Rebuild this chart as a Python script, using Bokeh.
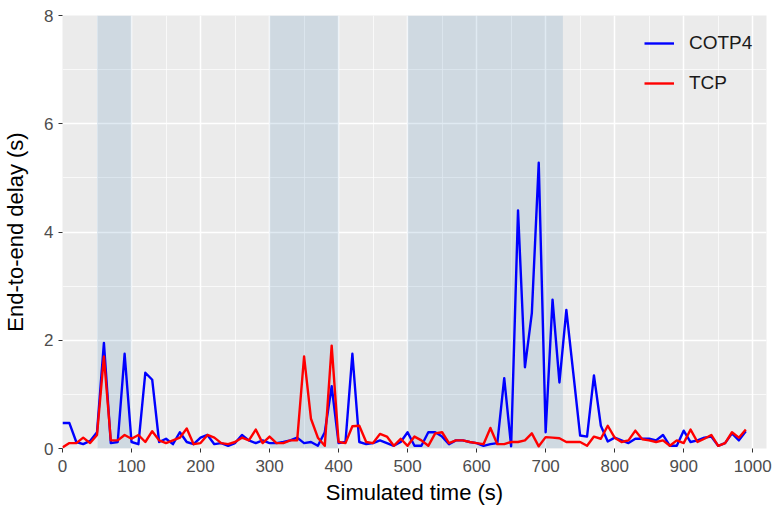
from bokeh.plotting import figure
from bokeh.models import SingleIntervalTicker, Legend, LegendItem, ColumnDataSource
from bokeh.embed import file_html
from bokeh.resources import INLINE

# ---- data ----
time_s = [0, 10, 20, 30, 40, 50, 60, 70, 80, 90,
          100, 110, 120, 130, 140, 150, 160, 170, 180, 190,
          200, 210, 220, 230, 240, 250, 260, 270, 280, 290,
          300, 310, 320, 330, 340, 350, 360, 370, 380, 390,
          400, 410, 420, 430, 440, 450, 460, 470, 480, 490,
          500, 510, 520, 530, 540, 550, 560, 570, 580, 590,
          600, 610, 620, 630, 640, 650, 660, 670, 680, 690,
          700, 710, 720, 730, 740, 750, 760, 770, 780, 790,
          800, 810, 820, 830, 840, 850, 860, 870, 880, 890,
          900, 910, 920, 930, 940, 950, 960, 970, 980, 990]

cotp4_delay = [0.47, 0.47, 0.12, 0.08, 0.14, 0.30, 1.95, 0.10, 0.12, 1.75,
               0.12, 0.08, 1.40, 1.27, 0.12, 0.18, 0.08, 0.30, 0.12, 0.08,
               0.20, 0.25, 0.08, 0.10, 0.05, 0.10, 0.25, 0.15, 0.10, 0.15,
               0.10, 0.10, 0.12, 0.15, 0.20, 0.10, 0.12, 0.05, 0.30, 1.15,
               0.10, 0.12, 1.75, 0.12, 0.08, 0.10, 0.15, 0.10, 0.05, 0.12,
               0.30, 0.05, 0.05, 0.30, 0.30, 0.22, 0.08, 0.15, 0.15, 0.12,
               0.10, 0.05, 0.08, 0.10, 1.30, 0.04, 4.40, 1.50, 2.50, 5.28,
               0.30, 2.75, 1.22, 2.56, 1.40, 0.24, 0.22, 1.35, 0.42, 0.13,
               0.20, 0.15, 0.10, 0.18, 0.18, 0.18, 0.15, 0.25, 0.05, 0.05,
               0.33, 0.12, 0.15, 0.20, 0.22, 0.05, 0.10, 0.28, 0.15, 0.32]

tcp_delay = [0.02, 0.10, 0.10, 0.20, 0.10, 0.25, 1.70, 0.15, 0.15, 0.25,
             0.18, 0.25, 0.12, 0.32, 0.15, 0.10, 0.15, 0.20, 0.37, 0.08,
             0.10, 0.25, 0.20, 0.10, 0.08, 0.12, 0.20, 0.15, 0.35, 0.10,
             0.22, 0.10, 0.10, 0.15, 0.15, 1.70, 0.55, 0.20, 0.05, 1.90,
             0.12, 0.10, 0.41, 0.42, 0.12, 0.10, 0.27, 0.22, 0.05, 0.18,
             0.05, 0.22, 0.15, 0.05, 0.28, 0.30, 0.10, 0.15, 0.15, 0.12,
             0.10, 0.08, 0.38, 0.08, 0.08, 0.12, 0.12, 0.15, 0.28, 0.04,
             0.21, 0.20, 0.19, 0.12, 0.12, 0.12, 0.05, 0.22, 0.18, 0.42,
             0.20, 0.12, 0.15, 0.33, 0.17, 0.15, 0.12, 0.15, 0.05, 0.15,
             0.10, 0.35, 0.12, 0.18, 0.25, 0.05, 0.10, 0.30, 0.20, 0.35]

shade_start = [50, 300, 500]
shade_end = [100, 400, 725]

series_names = ["COTP4", "TCP"]
series_colors = ["#0000FF", "#FF0000"]

FONT = "Liberation Sans"

p = figure(width=775, height=512, x_range=(0, 1020), y_range=(0, 8),
           output_backend="svg", toolbar_location=None,
           min_border_left=61, min_border_right=9,
           min_border_top=15, min_border_bottom=64)
p.background_fill_color = "#EBEBEB"
p.border_fill_color = "white"
p.outline_line_color = None

# shaded periods
shade_src = ColumnDataSource(dict(left=shade_start, right=shade_end))
p.quad(left="left", right="right", bottom=p.y_range.start, top=p.y_range.end,
       source=shade_src, fill_color="steelblue", fill_alpha=0.17, line_color=None)

r_cotp = p.line(time_s, cotp4_delay, line_color=series_colors[0], line_width=2.4,
                line_join="round")
r_tcp = p.line(time_s, tcp_delay, line_color=series_colors[1], line_width=2.4,
               line_join="round")

# axes
p.xaxis.ticker = SingleIntervalTicker(interval=100, num_minor_ticks=2)
p.yaxis.ticker = SingleIntervalTicker(interval=2, num_minor_ticks=2)
for ax in (p.xaxis, p.yaxis):
    ax.axis_line_color = None
    ax.major_tick_line_color = "#333333"
    ax.major_tick_line_width = 1
    ax.major_tick_out = 4
    ax.major_tick_in = 0
    ax.minor_tick_line_color = None
    ax.major_label_text_font = FONT
    ax.major_label_text_font_size = "17px"
    ax.major_label_text_color = "#4D4D4D"
    ax.axis_label_text_font = FONT
    ax.axis_label_text_font_size = "22px"
    ax.axis_label_text_font_style = "normal"
    ax.axis_label_text_color = "#000000"
p.xaxis.major_label_standoff = 7
p.yaxis.major_label_standoff = 5
p.xaxis.axis_label = "Simulated time (s)"
p.yaxis.axis_label = "End-to-end delay (s)"
p.xaxis.axis_label_standoff = 5
p.yaxis.axis_label_standoff = 13

# grid
for g in (p.xgrid, p.ygrid):
    g.grid_line_color = "white"
    g.grid_line_width = 1.5
    g.minor_grid_line_color = "white"
    g.minor_grid_line_width = 0.7

legend = Legend(items=[LegendItem(label=series_names[0], renderers=[r_cotp]),
                       LegendItem(label=series_names[1], renderers=[r_tcp])],
                location=(582, 354), background_fill_alpha=0,
                border_line_color=None, padding=0, margin=0, spacing=18,
                glyph_width=30, glyph_height=20, label_standoff=15,
                label_text_font=FONT, label_text_font_size="19px",
                label_text_color="#1A1A1A")
p.add_layout(legend)

open("out.html", "w").write(file_html(p, INLINE))
